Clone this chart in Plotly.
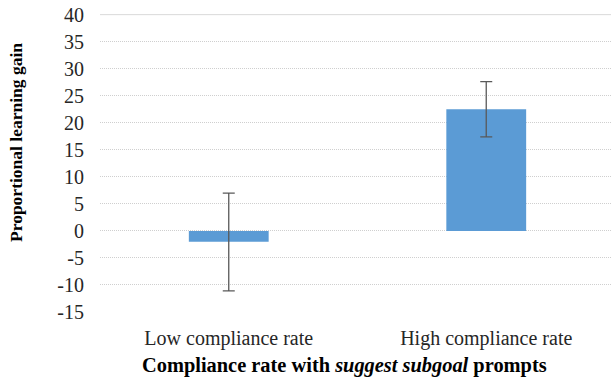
import plotly.graph_objects as go

categories = ["Low compliance rate", "High compliance rate"]
gain = [-2.0, 22.5]
err_plus = [9.0, 5.1]
err_minus = [9.1, 5.1]
y_ticks = [-15, -10, -5, 0, 5, 10, 15, 20, 25, 30, 35, 40]
y_tick_text = [str(v) for v in y_ticks]

W, H = 611, 383
L, T = 100, 14
B = H - 312

font_family = "Liberation Serif, Times New Roman, serif"

fig = go.Figure()
fig.add_trace(go.Bar(
    x=categories, y=gain, width=0.31,
    marker=dict(color="#5B9BD5", line=dict(width=0)),
    error_y=dict(type="data", symmetric=False, array=err_plus, arrayminus=err_minus,
                 color="#595959", thickness=1.3, width=6),
))

fig.update_layout(
    width=W, height=H,
    margin=dict(l=L, r=0, t=T, b=B),
    plot_bgcolor="white", paper_bgcolor="white",
    showlegend=False,
    font=dict(family=font_family, size=20, color="#262626"),
    xaxis=dict(range=[-0.5, 1.4845], showline=False, ticks="", showgrid=False,
               ticklabelstandoff=12, automargin=False,
               tickfont=dict(family=font_family, size=20, color="#262626")),
    yaxis=dict(range=[-15, 40.12], tickvals=y_ticks, ticktext=y_tick_text, showline=False,
               zeroline=False, showgrid=True, gridcolor="#CFCFCF", griddash="1px,1px",
               gridwidth=1, ticks="", ticklabelstandoff=15, ticklabeloverflow="allow",
               automargin=False,
               tickfont=dict(family=font_family, size=20, color="#262626")),
)

# top gridline (solid in the reference)
fig.add_shape(type="line", xref="paper", yref="y", x0=0, x1=1, y0=y_ticks[-1], y1=y_ticks[-1],
              line=dict(color="#D9D9D9", width=1), layer="below")

annots = [
    ("<b>Proportional learning gain</b>", 16, 143, -90, 17.5),
    ("<b>Compliance rate with <i>suggest subgoal</i> prompts</b>", 344, 365, 0, 20.4),
]
pw = W - L
ph = H - T - B
for text, sx, sy, ang, size in annots:
    fig.add_annotation(text=text, x=(sx - L) / pw, y=(H - B - sy) / ph,
                       xref="paper", yref="paper", showarrow=False, textangle=ang,
                       xanchor="center", yanchor="middle",
                       font=dict(size=size, color="black", family=font_family))

fig.write_html("out.html", config={"displayModeBar": False},
               post_script="document.body.style.margin='0';document.body.style.overflow='hidden';")
